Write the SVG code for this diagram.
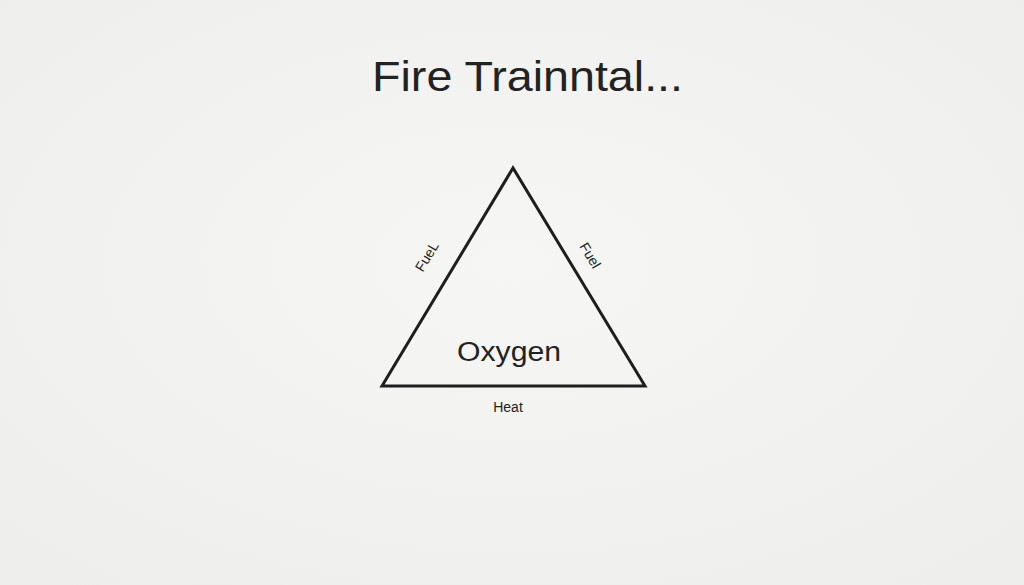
<svg xmlns="http://www.w3.org/2000/svg" width="1024" height="585" viewBox="0 0 1024 585">
<style>
.lbl{font-family:"Liberation Sans",Arial,sans-serif;fill:#222;}
.edge{fill:none;stroke:#1e1e1e;stroke-width:3;stroke-linejoin:miter;}
</style>
<defs>
<radialGradient id="bg" cx="50%" cy="45%" r="70%">
<stop offset="0" stop-color="#f6f6f5"/>
<stop offset="1" stop-color="#eeeeec"/>
</radialGradient>
</defs>
<rect width="1024" height="585" fill="url(#bg)"/>
<g id="title"><text class="lbl" x="372" y="91" font-size="43" textLength="311" lengthAdjust="spacingAndGlyphs">Fire Trainntal...</text></g>
<g id="connectors"><polygon class="edge" points="513,168 382,386 645,386"/></g>
<g id="fuel-left"><text class="lbl" x="0" y="0" font-size="14" text-anchor="middle" transform="translate(431,259) rotate(-59)">FueL</text></g>
<g id="fuel-right"><text class="lbl" x="0" y="0" font-size="14" text-anchor="middle" transform="translate(586,258) rotate(59)">Fuel</text></g>
<g id="oxygen"><text class="lbl" x="509" y="361" font-size="27" text-anchor="middle" textLength="104" lengthAdjust="spacingAndGlyphs">Oxygen</text></g>
<g id="heat"><text class="lbl" x="508" y="412" font-size="14" text-anchor="middle">Heat</text></g>
</svg>
